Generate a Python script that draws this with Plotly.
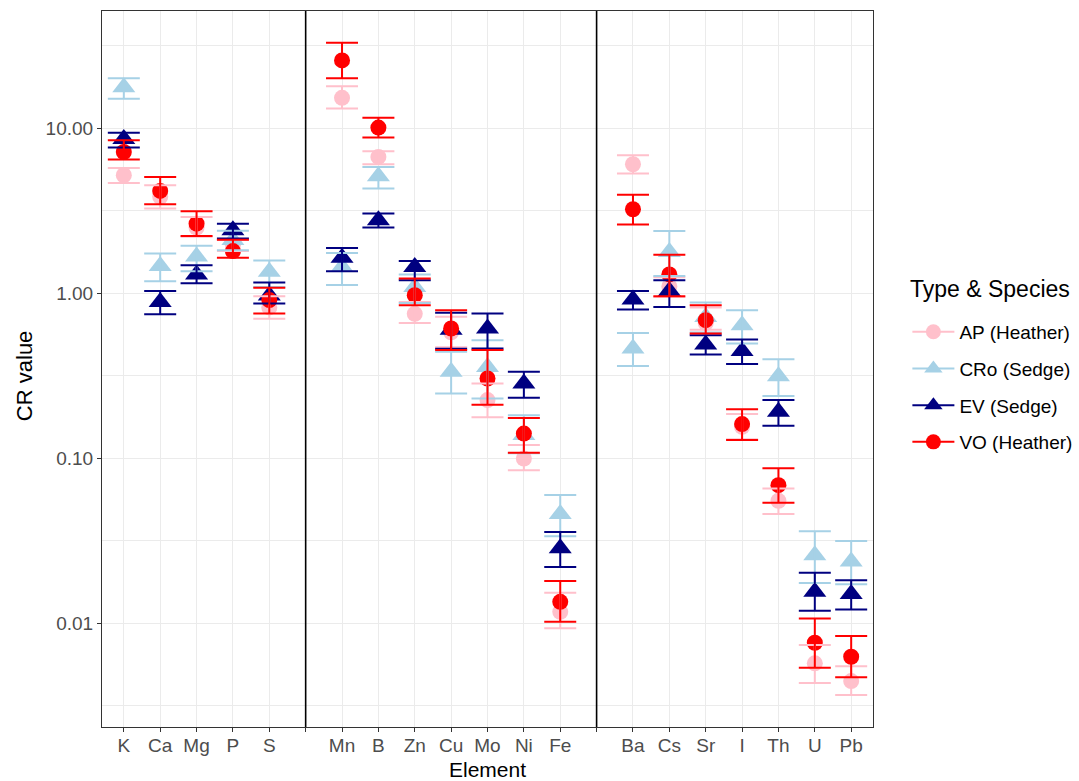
import plotly.graph_objects as go

# ---------------- data ----------------
elements = ["K", "Ca", "Mg", "P", "S",
            "Mn", "B", "Zn", "Cu", "Mo", "Ni", "Fe",
            "Ba", "Cs", "Sr", "I", "Th", "U", "Pb"]
# axis order with blank slots acting as group separators
axis_order = ["K", "Ca", "Mg", "P", "S", " ",
              "Mn", "B", "Zn", "Cu", "Mo", "Ni", "Fe", "  ",
              "Ba", "Cs", "Sr", "I", "Th", "U", "Pb"]
separators = [" ", "  "]

ap_val = [5.19, 3.84, 2.5, 1.95, 0.82, 15.3, 6.7, 0.75, 0.58, 0.225, 0.0995, 0.0117,
          6.05, 1.1, 0.66, 0.155, 0.0551, 0.0057, 0.00445]
ap_lo = [4.66, 3.26, 2.2, 1.8, 0.70, 13.2, 6.05, 0.66, 0.47, 0.177, 0.0845, 0.0093,
         5.31, 0.95, 0.60, 0.13, 0.0458, 0.00434, 0.00366]
ap_hi = [5.74, 4.52, 2.9, 2.1, 0.96, 18.0, 7.26, 0.885, 0.72, 0.284, 0.120, 0.0153,
         6.86, 1.25, 0.82, 0.185, 0.0655, 0.00736, 0.00548]

cro_val = [17.7, 1.46, 1.67, 2.10, 1.35, 1.44, 5.12, 1.09, 0.334, 0.357, 0.138, 0.0458,
           0.462, 1.78, 0.718, 0.640, 0.314, 0.0258, 0.0236]
cro_lo = [15.1, 1.18, 1.36, 1.82, 1.09, 1.12, 4.32, 0.873, 0.247, 0.230, 0.107, 0.0336,
          0.362, 1.27, 0.578, 0.496, 0.238, 0.0175, 0.0172]
cro_hi = [20.1, 1.74, 1.94, 2.39, 1.58, 1.75, 5.82, 1.30, 0.441, 0.519, 0.182, 0.0597,
          0.574, 2.38, 0.879, 0.789, 0.398, 0.0361, 0.0315]

ev_val = [8.6, 0.885, 1.30, 2.41, 0.97, 1.64, 2.77, 1.44, 0.60, 0.611, 0.284, 0.0284,
          0.916, 1.03, 0.489, 0.447, 0.191, 0.0155, 0.0150]
ev_lo = [7.65, 0.746, 1.15, 2.15, 0.867, 1.36, 2.50, 1.20, 0.46, 0.462, 0.232, 0.0219,
         0.796, 0.826, 0.425, 0.372, 0.157, 0.0119, 0.0121]
ev_hi = [9.4, 1.03, 1.48, 2.64, 1.16, 1.88, 3.04, 1.57, 0.76, 0.753, 0.334, 0.0357,
         1.03, 1.20, 0.556, 0.524, 0.225, 0.0202, 0.0182]

vo_val = [7.18, 4.17, 2.64, 1.80, 0.908, 25.8, 10.1, 0.972, 0.611, 0.304, 0.141, 0.01346,
          3.23, 1.30, 0.686, 0.161, 0.0686, 0.0076, 0.00625]
vo_lo = [6.46, 3.46, 2.22, 1.64, 0.753, 20.1, 8.79, 0.845, 0.452, 0.211, 0.108, 0.0102,
         2.61, 0.96, 0.57, 0.129, 0.0536, 0.00536, 0.00469]
vo_hi = [8.46, 5.07, 3.14, 2.11, 1.08, 33.0, 11.6, 1.23, 0.789, 0.452, 0.175, 0.0180,
         3.96, 1.71, 0.845, 0.198, 0.0867, 0.01067, 0.00834]

series_names = ["AP (Heather)", "CRo (Sedge)", "EV (Sedge)", "VO (Heather)"]
series_colors = ["#FFC0CB", "#A6D1E6", "#000080", "#FF0000"]
series_symbols = ["circle", "triangle-up", "triangle-up", "circle"]

y_tickvals = [0.01, 0.1, 1, 10]
y_ticktext = ["0.01", "0.10", "1.00", "10.00"]
y_minor = [0.00316, 0.0316, 0.316, 3.16, 31.6]

# ---------------- figure ----------------
vals = [ap_val, cro_val, ev_val, vo_val]
los = [ap_lo, cro_lo, ev_lo, vo_lo]
his = [ap_hi, cro_hi, ev_hi, vo_hi]

FONT = "Liberation Sans, Arial, Helvetica, sans-serif"
fig = go.Figure()

def msize(sym):
    return 20 if sym.startswith("triangle") else 16

# points
for name, col, sym, v in zip(series_names, series_colors, series_symbols, vals):
    fig.add_trace(go.Scatter(
        x=elements, y=v, mode="markers", showlegend=False,
        marker=dict(color=col, symbol=sym, size=msize(sym), line=dict(width=0)),
        name=name))

# error bars on top
for name, col, v, lo, hi in zip(series_names, series_colors, vals, los, his):
    fig.add_trace(go.Scatter(
        x=elements, y=v, mode="markers", showlegend=False,
        marker=dict(color=col, size=1, opacity=0),
        error_y=dict(type="data", symmetric=False,
                     array=[h - a for h, a in zip(hi, v)],
                     arrayminus=[a - l for l, a in zip(lo, v)],
                     color=col, thickness=2, width=16),
        name=name, hoverinfo="skip"))

# legend entries
for i, (name, col, sym) in enumerate(zip(series_names, series_colors, series_symbols)):
    fig.add_trace(go.Scatter(
        x=[None], y=[None], mode="lines+markers", name=name,
        legendgroup=f"g{i}",
        line=dict(color=col, width=2),
        marker=dict(color=col, symbol=sym, size=msize(sym) - 1)))

# group separators
for s in separators:
    fig.add_shape(type="line", xref="x", yref="paper", x0=s, x1=s, y0=0, y1=1,
                  line=dict(color="black", width=1.6), layer="above")

# legend title and axis titles
fig.add_annotation(text="Type & Species", xref="paper", yref="paper",
                   x=1.0454, y=0.612, xanchor="left", yanchor="middle",
                   showarrow=False, font=dict(size=23, color="black"))
fig.add_annotation(text="Element", xref="paper", yref="paper",
                   x=0.5, y=-0.0587, xanchor="center", yanchor="middle",
                   showarrow=False, font=dict(size=21, color="black"))
fig.add_annotation(text="CR value", xref="paper", yref="paper",
                   x=-0.1012, y=0.490, xanchor="center", yanchor="middle",
                   textangle=-90, showarrow=False,
                   font=dict(size=22, color="black"))

fig.update_layout(
    width=1079, height=781,
    margin=dict(l=102, r=206, t=11, b=54, autoexpand=False),
    paper_bgcolor="white", plot_bgcolor="white",
    font=dict(family=FONT, size=19, color="#4D4D4D"),
    legend=dict(
        font=dict(size=19, color="black"),
        x=1.0446, xanchor="left", y=0.475, yanchor="middle",
        tracegroupgap=9, traceorder="grouped",
        bgcolor="rgba(0,0,0,0)", itemwidth=42),
    xaxis=dict(
        type="category", categoryorder="array", categoryarray=axis_order,
        range=[-0.6, len(axis_order) - 0.4],
        tickvals=axis_order, ticktext=axis_order,
        showgrid=True, gridcolor="#EBEBEB", gridwidth=1.1,
        ticks="outside", ticklen=4, tickwidth=1.1, tickcolor="#333333",
        tickfont=dict(size=19, color="#4D4D4D"), ticklabelstandoff=-3,
        showline=True, linecolor="#333333", linewidth=1.1, mirror=True,
        zeroline=False, automargin=False),
    yaxis=dict(
        type="log", range=[-2.630, 1.711],
        tickvals=y_tickvals, ticktext=y_ticktext,
        showgrid=True, gridcolor="#EBEBEB", gridwidth=1.1,
        minor=dict(tickvals=y_minor, showgrid=True, gridcolor="#EBEBEB",
                   gridwidth=0.6, ticks=""),
        ticks="outside", ticklen=4, tickwidth=1.1, tickcolor="#333333",
        tickfont=dict(size=19, color="#4D4D4D"),
        showline=True, linecolor="#333333", linewidth=1.1, mirror=True,
        zeroline=False, automargin=False),
)

fig.write_html("out.html", config={"displayModeBar": False},
               post_script="document.body.style.margin='0';document.body.style.padding='0';")
